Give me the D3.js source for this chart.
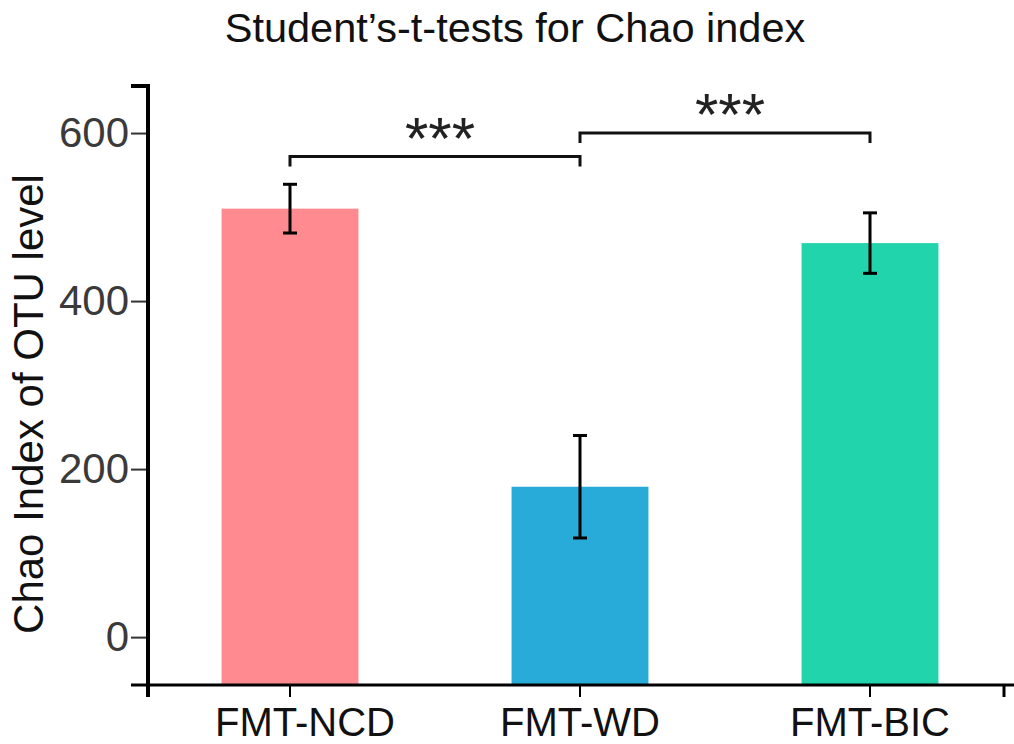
<!DOCTYPE html>
<html>
<head>
<meta charset="utf-8">
<script src="https://cdn.jsdelivr.net/npm/d3@7"></script>
<style>
  body { margin: 0; background: #fff; }
  svg { display: block; font-family: "Liberation Sans", Arial, sans-serif; }
</style>
</head>
<body>
<div class="container"></div>
<script>
// chart data
const groups = ["FMT-NCD", "FMT-WD", "FMT-BIC"];
const means = [510, 179, 469];
const errs = [29, 61, 36];
const colors = ["#ff8a8f", "#29abd9", "#21d4ab"];
const yTicks = [0, 200, 400, 600];
// significance brackets: from group, to group, height, label
const sigFrom = ["FMT-NCD", "FMT-WD"];
const sigTo = ["FMT-WD", "FMT-BIC"];
const sigLevel = [572, 600];
const sigLabel = ["***", "***"];

const width = 1014, height = 744;

const svg = d3.select(".container")
    .append("svg")
    .attr("width", width)
    .attr("height", height);

const y = d3.scaleLinear()
    .domain([-57, 656])
    .range([685, 86]);

const x = d3.scaleBand()
    .domain(groups)
    .range([145, 1015])
    .paddingInner(0.528)
    .paddingOuter(0.264);

// title
svg.append("text")
    .attr("x", 515)
    .attr("y", 42)
    .attr("text-anchor", "middle")
    .attr("font-size", 41.5)
    .attr("fill", "#111")
    .text("Student’s-t-tests for Chao index");

// bars
svg.append("g")
    .selectAll("rect")
    .data(groups)
    .enter()
    .append("rect")
    .attr("x", d => x(d))
    .attr("width", x.bandwidth())
    .attr("y", (d, i) => y(means[i]))
    .attr("height", (d, i) => y(y.domain()[0]) - y(means[i]))
    .attr("fill", (d, i) => colors[i]);

// error bars
const eb = svg.append("g").attr("stroke", "#000").attr("stroke-width", 3);
groups.forEach((g, i) => {
    const cx = x(g) + x.bandwidth() / 2;
    eb.append("line")
        .attr("x1", cx).attr("x2", cx)
        .attr("y1", y(means[i] + errs[i])).attr("y2", y(means[i] - errs[i]));
    [means[i] + errs[i], means[i] - errs[i]].forEach(v => {
        eb.append("line")
            .attr("x1", cx - 7).attr("x2", cx + 7)
            .attr("y1", y(v)).attr("y2", y(v));
    });
});

// significance brackets
const br = svg.append("g");
sigFrom.forEach((f, i) => {
    const x1 = x(f) + x.bandwidth() / 2;
    const x2 = x(sigTo[i]) + x.bandwidth() / 2;
    const yy = y(sigLevel[i]);
    br.append("path")
        .attr("d", `M${x1},${yy + 10}V${yy}H${x2}V${yy + 10}`)
        .attr("fill", "none")
        .attr("stroke", "#111")
        .attr("stroke-width", 3);
    br.append("text")
        .attr("x", (x1 + x2) / 2 + 5)
        .attr("y", yy + 2)
        .attr("text-anchor", "middle")
        .attr("font-size", 60)
        .attr("fill", "#222")
        .text(sigLabel[i]);
});

// y axis
const yAxis = svg.append("g")
    .attr("transform", "translate(148,0)")
    .call(d3.axisLeft(y).tickValues(yTicks).tickSize(17).tickPadding(2).tickSizeOuter(0));
yAxis.select(".domain").remove();
yAxis.selectAll(".tick line").attr("stroke", "#333").attr("stroke-width", 2);
yAxis.selectAll(".tick text")
    .attr("font-size", 42)
    .attr("fill", "#3a3a3a")
    .attr("font-family", "Liberation Sans, Arial, sans-serif");

svg.append("path")
    .attr("d", `M131,${y(y.domain()[1])}H148V${y(y.domain()[0]) + 12}`)
    .attr("fill", "none")
    .attr("stroke", "#000")
    .attr("stroke-width", 4);

// x axis
const xAxis = svg.append("g")
    .attr("transform", `translate(0,${y(y.domain()[0])})`)
    .call(d3.axisBottom(x).tickSize(12).tickPadding(11).tickSizeOuter(0));
xAxis.select(".domain").remove();
xAxis.selectAll(".tick line").attr("stroke", "#000").attr("stroke-width", 2);
xAxis.selectAll(".tick text")
    .attr("font-size", 40)
    .attr("fill", "#111")
    .attr("font-family", "Liberation Sans, Arial, sans-serif")
    .attr("dx", (d, i) => i === 0 ? 15 : 0);

xAxis.append("path")
    .attr("d", "M131,0H1014M1004,0V12")
    .attr("fill", "none")
    .attr("stroke", "#000")
    .attr("stroke-width", 3);

// y axis label
svg.append("text")
    .attr("transform", "translate(43,404) rotate(-90)")
    .attr("text-anchor", "middle")
    .attr("font-size", 42)
    .attr("fill", "#111")
    .text("Chao Index of OTU level");
</script>
</body>
</html>
